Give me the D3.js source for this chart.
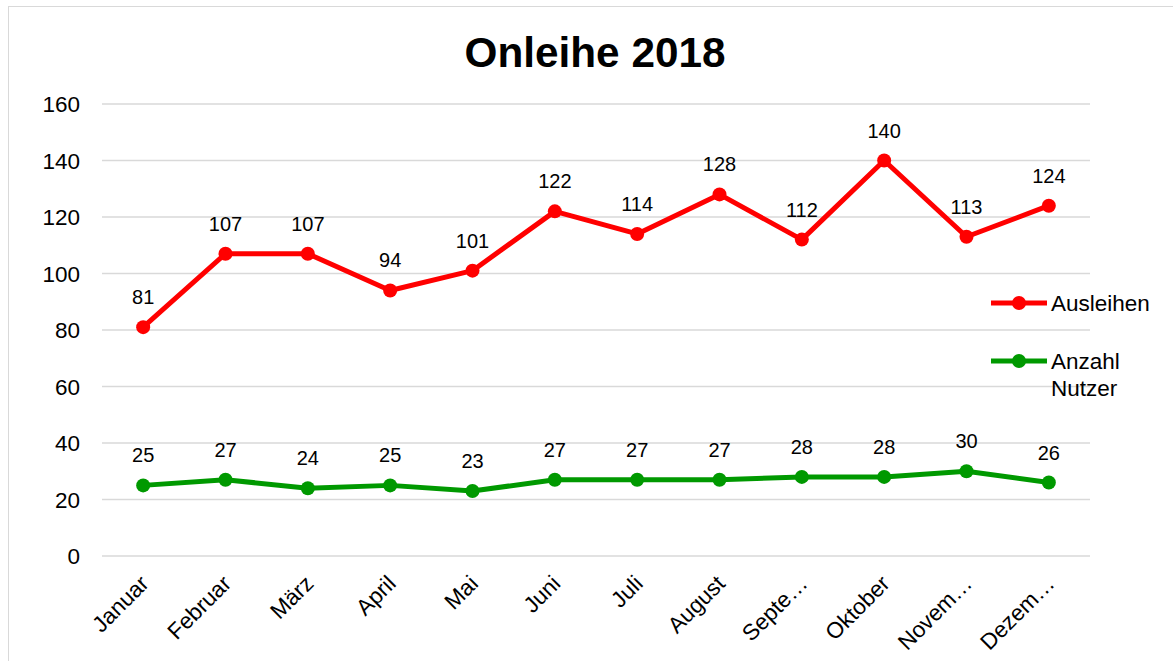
<!DOCTYPE html>
<html><head><meta charset="utf-8">
<script src="https://cdn.jsdelivr.net/npm/d3@7/dist/d3.min.js"></script>
<style>body{margin:0;background:#fff;font-family:"Liberation Sans",Arial,sans-serif;}</style>
</head><body><svg id="c" width="1173" height="661"></svg>
<script>
const months = ["Januar","Februar","März","April","Mai","Juni","Juli","August","Septe…","Oktober","Novem…","Dezem…"];
const ausleihen = [81,107,107,94,101,122,114,128,112,140,113,124];
const nutzer = [25,27,24,25,23,27,27,27,28,28,30,26];
const yTicks = [0,20,40,60,80,100,120,140,160];
const seriesNames = ["Ausleihen","Anzahl Nutzer"];
const colors = ["#ff0000","#009900"];

const svg = d3.select("#c");
const W = 1173, H = 661;
const FF = "Liberation Sans, Arial, sans-serif";
svg.append("rect").attr("x",8.5).attr("y",6.5).attr("width",W-8).attr("height",H-6).attr("fill","#fff").attr("stroke","#d9d9d9");

const x = d3.scaleBand().domain(months).range([102,1090]);
const y = d3.scaleLinear().domain([0,160]).range([556,104]);
const cx = d => x(d)+x.bandwidth()/2;

// gridlines
svg.append("g").selectAll("line").data(yTicks).join("line")
  .attr("x1",102).attr("x2",1090).attr("y1",d=>y(d)).attr("y2",d=>y(d))
  .attr("stroke","#d9d9d9").attr("stroke-width",1.5);

// y axis labels
const yAxis = d3.axisLeft(y).tickValues(yTicks).tickSize(0).tickPadding(0);
const gy = svg.append("g").attr("transform","translate(80,0)").call(yAxis);
gy.select(".domain").remove();
gy.selectAll("text").attr("font-size",22.5).attr("font-family",FF).attr("fill","#000").attr("dy","0.35em");

// x axis labels
const xAxis = d3.axisBottom(x).tickSize(0).tickPadding(0);
const gx = svg.append("g").attr("transform","translate(0,556)").call(xAxis);
gx.select(".domain").remove();
gx.selectAll("text").attr("font-size",22.5).attr("font-family",FF).attr("fill","#000")
  .attr("text-anchor","end").attr("dy",0).attr("y",0)
  .attr("transform","translate(7,29) rotate(-45)");

// title
svg.append("text").attr("x",595).attr("y",67).attr("text-anchor","middle").attr("font-family",FF)
  .attr("font-size",42.3).attr("font-weight","bold").attr("fill","#000").text("Onleihe 2018");

const line = d3.line().x((d,i)=>cx(months[i])).y(d=>y(d));
[ausleihen,nutzer].forEach((s,k)=>{
  const g = svg.append("g");
  g.append("path").datum(s).attr("d",line).attr("fill","none").attr("stroke",colors[k]).attr("stroke-width",5).attr("stroke-linejoin","round");
  g.selectAll("circle").data(s).join("circle").attr("cx",(d,i)=>cx(months[i])).attr("cy",d=>y(d)).attr("r",7).attr("fill",colors[k]);
  g.selectAll("text").data(s).join("text").attr("x",(d,i)=>cx(months[i])).attr("y",d=>y(d)-23).attr("font-family",FF)
    .attr("text-anchor","middle").attr("font-size",20).attr("fill","#000").text(d=>d);
});

// legend
const lg = svg.append("g");
const ly = [303,361];
seriesNames.forEach((n,k)=>{
  lg.append("line").attr("x1",991).attr("x2",1047).attr("y1",ly[k]).attr("y2",ly[k]).attr("stroke",colors[k]).attr("stroke-width",5);
  lg.append("circle").attr("cx",1019).attr("cy",ly[k]).attr("r",7).attr("fill",colors[k]);
  const words = k===1 ? ["Anzahl","Nutzer"] : [n];
  words.forEach((w,j)=>{
    lg.append("text").attr("x",1051).attr("y",ly[k]+j*27).attr("dy","0.35em").attr("font-family",FF).attr("font-size",22.5).attr("fill","#000").text(w);
  });
});
</script></body></html>
